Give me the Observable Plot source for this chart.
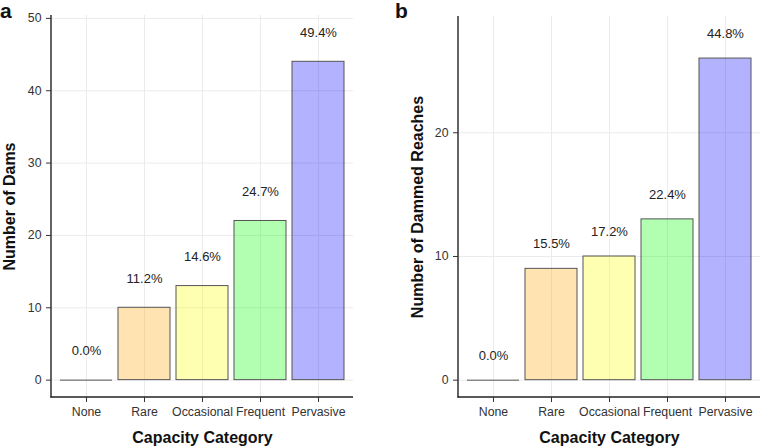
<!DOCTYPE html>
<html>
<head>
<meta charset="utf-8">
<script src="https://cdn.jsdelivr.net/npm/d3@7"></script>
<script src="https://cdn.jsdelivr.net/npm/@observablehq/plot@0.6"></script>
<style>
  html, body { margin: 0; padding: 0; background: #fff; }
  #wrap { position: relative; width: 762px; height: 448px; font-family: "Liberation Sans", Arial, sans-serif; }
  .panel { position: absolute; top: 0; }
  .tag { position: absolute; top: 0; font-weight: bold; font-size: 21px; line-height: 21px; color: #111; }
</style>
</head>
<body>
<div id="wrap"></div>
<script>
// ---- data ----
const categories = ["None", "Rare", "Occasional", "Frequent", "Pervasive"];
const categoryColors = ["#FF0000", "#FFA500", "#FFFF00", "#00FF00", "#0000FF"];

const damCounts = [0, 10, 13, 22, 44];
const damPercents = ["0.0%", "11.2%", "14.6%", "24.7%", "49.4%"];
const damTicks = [0, 10, 20, 30, 40, 50];

const reachCounts = [0, 9, 10, 13, 26];
const reachPercents = ["0.0%", "15.5%", "17.2%", "22.4%", "44.8%"];
const reachTicks = [0, 10, 20];

const xTitle = "Capacity Category";
const damTitle = "Number of Dams";
const reachTitle = "Number of Dammed Reaches";

function rows(counts, pcts) {
  return categories.map((c, i) => ({category: c, count: counts[i], pct: pcts[i], color: categoryColors[i]}));
}

function panel({data, yDomain, ticks, labelOffset, yTitle, yTitleDx, width, marginLeft, marginRight, marginTop}) {
  const axisLines = (index, scales, values, dim) => {
    const g = d3.create("svg:g");
    const x0 = dim.marginLeft, x1 = dim.width - dim.marginRight;
    const y0 = dim.marginTop, y1 = dim.height - dim.marginBottom;
    g.append("line").attr("x1", x0).attr("x2", x0).attr("y1", y0).attr("y2", y1 + 0.6)
      .attr("stroke", "#222").attr("stroke-width", 1.4);
    g.append("line").attr("x1", x0 - 0.6).attr("x2", x1).attr("y1", y1).attr("y2", y1)
      .attr("stroke", "#222").attr("stroke-width", 1.4);
    return g.node();
  };
  return Plot.plot({
    width, height: 448,
    marginLeft, marginRight, marginTop, marginBottom: 51,
    style: {fontFamily: "'Liberation Sans', Arial, sans-serif", fontSize: "12px", color: "#333", background: "white"},
    x: {type: "band", domain: categories, paddingInner: 0.1, paddingOuter: 0.15, align: 0.5, label: null},
    y: {domain: yDomain, label: null},
    color: {type: "identity"},
    marks: [
      Plot.gridY(ticks, {stroke: "#ebebeb", strokeOpacity: 1, strokeWidth: 1}),
      Plot.gridX({stroke: "#ebebeb", strokeOpacity: 1, strokeWidth: 1}),
      Plot.barY(data, {x: "category", y1: 0, y2: "count", fill: "color", fillOpacity: 0.3, stroke: "#555", strokeWidth: 1}),
      Plot.tickY(data.filter(d => d.count === 0), {x: "category", y: "count", stroke: "#555", strokeWidth: 1}),
      Plot.text(data, {x: "category", y: d => d.count + labelOffset, text: "pct", fill: "#222", fontSize: 13, lineAnchor: "middle"}),
      axisLines,
      Plot.axisY({ticks, tickSize: 5, tickPadding: 5, fontSize: 12.3, label: null, stroke: "#333"}),
      Plot.axisX({tickSize: 5, tickPadding: 5, fontSize: 12.3, label: null, stroke: "#333"}),
      Plot.text([xTitle], {frameAnchor: "bottom", dy: 40, lineAnchor: "middle", textAnchor: "middle", fontSize: 16, fontWeight: "bold", fill: "#111"}),
      Plot.text([yTitle], {frameAnchor: "left", dx: yTitleDx, rotate: -90, lineAnchor: "middle", textAnchor: "middle", fontSize: 16, fontWeight: "bold", fill: "#111"})
    ]
  });
}

const wrap = document.getElementById("wrap");

const a = panel({data: rows(damCounts, damPercents), yDomain: [-2.4, 50.4], ticks: damTicks, labelOffset: 4,
  yTitle: damTitle, yTitleDx: -42, width: 380, marginLeft: 51, marginRight: 27, marginTop: 15});
a.classList.add("panel"); a.style.left = "0px";
wrap.appendChild(a);

const b = panel({data: rows(reachCounts, reachPercents), yDomain: [-1.4, 29.4], ticks: reachTicks, labelOffset: 2,
  yTitle: reachTitle, yTitleDx: -41, width: 382, marginLeft: 78, marginRight: 2, marginTop: 16});
b.classList.add("panel"); b.style.left = "380px";
wrap.appendChild(b);

const ta = document.createElement("div"); ta.className = "tag"; ta.style.left = "0px"; ta.textContent = "a"; wrap.appendChild(ta);
const tb = document.createElement("div"); tb.className = "tag"; tb.style.left = "395px"; tb.textContent = "b"; wrap.appendChild(tb);
</script>
</body>
</html>
